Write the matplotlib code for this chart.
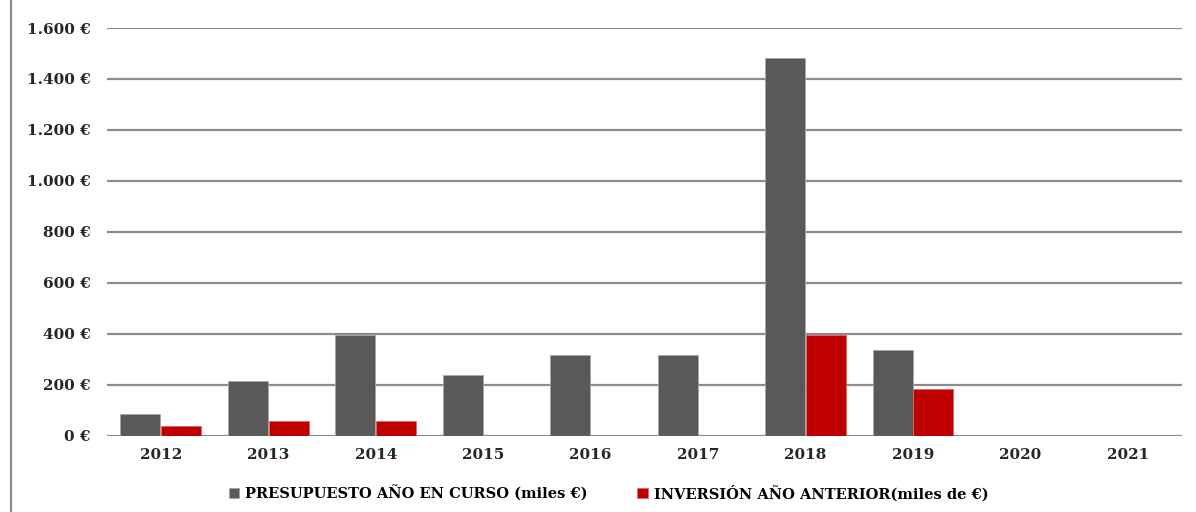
import numpy as np
import matplotlib
matplotlib.use('Agg')
import matplotlib.pyplot as plt
from matplotlib.ticker import FuncFormatter
from matplotlib.lines import Line2D

# Datos (miles de euros)
years = ['2012', '2013', '2014', '2015', '2016', '2017', '2018', '2019', '2020', '2021']
presupuesto = [83, 214, 395, 236, 317, 317, 1482, 335, 0, 0]
inversion = [36, 56, 56, 0, 0, 0, 396, 182, 0, 0]

lbl_pres = 'PRESUPUESTO AÑO EN CURSO (miles €)'
lbl_inv = 'INVERSIÓN AÑO ANTERIOR(miles de €)'

plt.rcParams['font.family'] = ['DejaVu Serif']
plt.rcParams['font.weight'] = 'bold'

fig = plt.figure(figsize=(11.96, 5.12), dpi=100)
ax = fig.add_axes([0.0895, 0.1494, 0.8985, 0.7959])

x = np.arange(len(years))
w = 0.372
ax.bar(x - w / 2 - 0.004, presupuesto, w, color='#595959', edgecolor='#a6a6a6', linewidth=0.6,
       label=lbl_pres, zorder=3)
ax.bar(x + w / 2 + 0.004, inversion, w, color='#c00000', edgecolor='#e06666', linewidth=0.6,
       label=lbl_inv, zorder=3)

ax.set_xlim(-0.5, len(years) - 0.5)
ax.set_ylim(0, 1600)
ax.set_yticks(np.arange(0, 1601, 200))
ax.yaxis.set_major_formatter(FuncFormatter(lambda v, p: f'{int(v):,} €'.replace(',', '.')))
ax.set_xticks(x)
ax.set_xticklabels(years)
ax.tick_params(axis='both', length=0, labelsize=11, labelcolor='#262626')
ax.tick_params(axis='y', pad=12)
ax.tick_params(axis='x', pad=9)
ax.grid(axis='y', color='#8c8c8c', linewidth=1.6, zorder=0)
for s in ax.spines.values():
    s.set_visible(False)

# borde izquierdo del gráfico
fig.add_artist(Line2D([0.0088, 0.0088], [0, 1], color='#8c8c8c', linewidth=1.6))

fig.legend(loc='center', bbox_to_anchor=(0.509, 0.037), ncol=2, frameon=False,
           fontsize=10.5, handlelength=0.7, handleheight=0.7, handletextpad=0.45,
           columnspacing=3.4)

fig.savefig('out.png', dpi=100)
